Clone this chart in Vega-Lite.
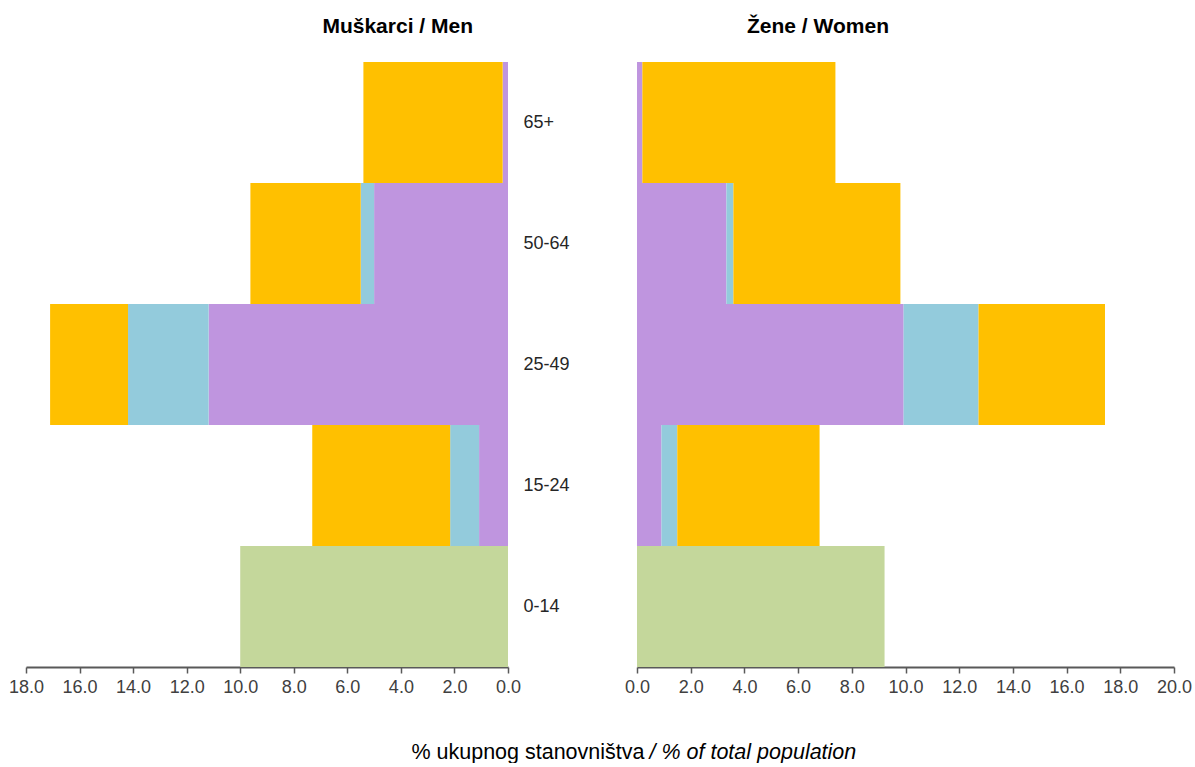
{
  "$schema": "https://vega.github.io/schema/vega-lite/v6.json",
  "background": "white",
  "padding": {"left": 8, "top": 16, "right": 2, "bottom": 0},
  "bounds": "flush",
  "spacing": 129,
  "config": {
    "view": {"stroke": null},
    "font": "Liberation Sans",
    "axis": {"grid": false}
  },
  "datasets": {
    "pop": [
      {"sex": "M", "age": "65+", "cat": "zaposleni", "ord": 1, "value": 0.2},
      {"sex": "M", "age": "65+", "cat": "neaktivni", "ord": 3, "value": 5.2},
      {"sex": "M", "age": "50-64", "cat": "zaposleni", "ord": 1, "value": 5.0},
      {"sex": "M", "age": "50-64", "cat": "nezaposleni", "ord": 2, "value": 0.5},
      {"sex": "M", "age": "50-64", "cat": "neaktivni", "ord": 3, "value": 4.12},
      {"sex": "M", "age": "25-49", "cat": "zaposleni", "ord": 1, "value": 11.18},
      {"sex": "M", "age": "25-49", "cat": "nezaposleni", "ord": 2, "value": 3.01},
      {"sex": "M", "age": "25-49", "cat": "neaktivni", "ord": 3, "value": 2.91},
      {"sex": "M", "age": "15-24", "cat": "zaposleni", "ord": 1, "value": 1.08},
      {"sex": "M", "age": "15-24", "cat": "nezaposleni", "ord": 2, "value": 1.08},
      {"sex": "M", "age": "15-24", "cat": "neaktivni", "ord": 3, "value": 5.15},
      {"sex": "M", "age": "0-14", "cat": "djeca", "ord": 4, "value": 10.0},
      {"sex": "F", "age": "65+", "cat": "zaposleni", "ord": 1, "value": 0.2},
      {"sex": "F", "age": "65+", "cat": "neaktivni", "ord": 3, "value": 7.19},
      {"sex": "F", "age": "50-64", "cat": "zaposleni", "ord": 1, "value": 3.33},
      {"sex": "F", "age": "50-64", "cat": "nezaposleni", "ord": 2, "value": 0.26},
      {"sex": "F", "age": "50-64", "cat": "neaktivni", "ord": 3, "value": 6.22},
      {"sex": "F", "age": "25-49", "cat": "zaposleni", "ord": 1, "value": 9.93},
      {"sex": "F", "age": "25-49", "cat": "nezaposleni", "ord": 2, "value": 2.79},
      {"sex": "F", "age": "25-49", "cat": "neaktivni", "ord": 3, "value": 4.71},
      {"sex": "F", "age": "15-24", "cat": "zaposleni", "ord": 1, "value": 0.91},
      {"sex": "F", "age": "15-24", "cat": "nezaposleni", "ord": 2, "value": 0.59},
      {"sex": "F", "age": "15-24", "cat": "neaktivni", "ord": 3, "value": 5.3},
      {"sex": "F", "age": "0-14", "cat": "djeca", "ord": 4, "value": 9.22}
    ]
  },
  "hconcat": [
    {
      "width": 482,
      "height": 605,
      "data": {"name": "pop"},
      "transform": [{"filter": "datum.sex === 'M'"}],
      "title": {
        "text": "Muškarci / Men",
        "fontSize": 21,
        "fontWeight": "bold",
        "color": "#000000",
        "anchor": "end",
        "frame": "group",
        "dx": -35,
        "baseline": "alphabetic",
        "offset": 8
      },
      "mark": {"type": "bar", "stroke": null},
      "encoding": {
        "y": {
          "field": "age",
          "type": "nominal",
          "sort": ["65+", "50-64", "25-49", "15-24", "0-14"],
          "scale": {"paddingInner": 0, "paddingOuter": 0},
          "axis": {
            "orient": "right",
            "title": null,
            "domain": false,
            "ticks": false,
            "labelPadding": 15,
            "labelFontSize": 18,
            "labelColor": "#262626",
            "labelAlign": "left"
          }
        },
        "x": {
          "field": "value",
          "type": "quantitative",
          "stack": "zero",
          "scale": {"domain": [0, 18], "reverse": true, "nice": false},
          "axis": {
            "values": [0, 2, 4, 6, 8, 10, 12, 14, 16, 18],
            "format": ".1f",
            "labelFlush": false,
            "labelOverlap": false,
            "labelFontSize": 18,
            "labelColor": "#404040",
            "labelPadding": 5,
            "domainColor": "#595959",
            "domainWidth": 2,
            "tickColor": "#595959",
            "tickWidth": 1.5,
            "tickSize": 6,
            "title": "% ukupnog stanovništva",
            "titleFontSize": 21.5,
            "titleFontWeight": "normal",
            "titleColor": "#000000",
            "titleAlign": "right",
            "titleAnchor": null,
            "titleX": 618,
            "titleY": 91,
            "titleBaseline": "alphabetic"
          }
        },
        "order": {"field": "ord", "type": "quantitative"},
        "color": {
          "field": "cat",
          "type": "nominal",
          "legend": null,
          "scale": {
            "domain": ["zaposleni", "nezaposleni", "neaktivni", "djeca"],
            "range": ["#BF95DF", "#93CBDC", "#FFC000", "#C4D79B"]
          }
        }
      }
    },
    {
      "width": 537,
      "height": 605,
      "data": {"name": "pop"},
      "transform": [{"filter": "datum.sex === 'F'"}],
      "title": {
        "text": "Žene / Women",
        "fontSize": 21,
        "fontWeight": "bold",
        "color": "#000000",
        "anchor": "start",
        "frame": "group",
        "dx": 110,
        "baseline": "alphabetic",
        "offset": 8
      },
      "mark": {"type": "bar", "stroke": null},
      "encoding": {
        "y": {
          "field": "age",
          "type": "nominal",
          "sort": ["65+", "50-64", "25-49", "15-24", "0-14"],
          "scale": {"paddingInner": 0, "paddingOuter": 0},
          "axis": null
        },
        "x": {
          "field": "value",
          "type": "quantitative",
          "stack": "zero",
          "scale": {"domain": [0, 20], "nice": false},
          "axis": {
            "values": [0, 2, 4, 6, 8, 10, 12, 14, 16, 18, 20],
            "format": ".1f",
            "labelFlush": false,
            "labelOverlap": false,
            "labelFontSize": 18,
            "labelColor": "#404040",
            "labelPadding": 5,
            "domainColor": "#595959",
            "domainWidth": 2,
            "tickColor": "#595959",
            "tickWidth": 1.5,
            "tickSize": 6,
            "title": "/ % of total population",
            "titleFontSize": 21.5,
            "titleFontWeight": "normal",
            "titleFontStyle": "italic",
            "titleColor": "#000000",
            "titleAlign": "left",
            "titleAnchor": null,
            "titleX": 12,
            "titleY": 91,
            "titleBaseline": "alphabetic"
          }
        },
        "order": {"field": "ord", "type": "quantitative"},
        "color": {
          "field": "cat",
          "type": "nominal",
          "legend": null,
          "scale": {
            "domain": ["zaposleni", "nezaposleni", "neaktivni", "djeca"],
            "range": ["#BF95DF", "#93CBDC", "#FFC000", "#C4D79B"]
          }
        }
      }
    }
  ]
}
